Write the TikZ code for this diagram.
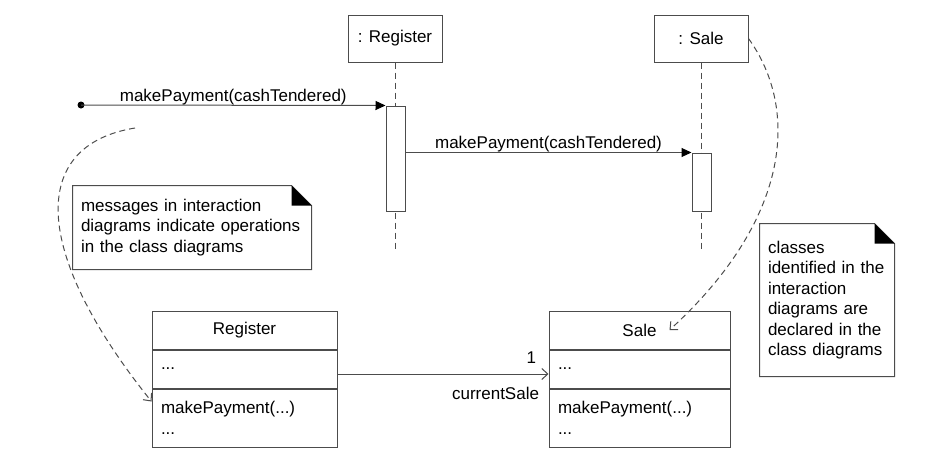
\documentclass[tikz,border=0pt]{standalone}
\usepackage{fontspec}
\setmainfont{Liberation Sans}
\usetikzlibrary{arrows.meta,positioning}

\colorlet{linegray}{black!70}

\newcommand{\dogear}[1]{%
  \draw[linegray] (#1.north west) -- ([xshift=-20pt]#1.north east)
    -- ([yshift=-20pt]#1.north east) -- (#1.south east) -- (#1.south west) -- cycle;
  \fill[black] ([xshift=-20pt]#1.north east) -- ([xshift=-20pt,yshift=-20pt]#1.north east)
    -- ([yshift=-20pt]#1.north east) -- cycle;
}

\begin{document}
\begin{tikzpicture}[x=1pt,y=-1pt,line width=1pt,
    font=\fontsize{17}{20.5}\selectfont,
    objbox/.style={draw=linegray, minimum width=94pt, minimum height=47pt, inner sep=0pt},
    actbar/.style={draw=linegray, fill=white, minimum width=19pt, inner sep=0pt},
    lifeline/.style={draw=linegray, dash pattern=on 6pt off 4pt},
    msg/.style={draw=linegray, -{Triangle[length=10pt,width=9pt,color=black]}},
    classpart/.style={draw=linegray, minimum width=#1, inner sep=0pt},
    notebox/.style={inner xsep=8pt, inner ysep=0pt, align=left},
    trace/.style={draw=linegray, dash pattern=on 6pt off 4pt, -{Straight Barb[length=6pt,width=11pt]}},
    assoc/.style={draw=linegray, -{Straight Barb[length=6pt,width=11pt]}}]
  \useasboundingbox (0,0) rectangle (939,474);

  % lifelines
  \node[objbox] (regobj) at (395,38.5) {: Register};
  \node[objbox] (saleobj) at (701,38.5) {: Sale};
  \coordinate (regend) at (395,250);
  \coordinate (saleend) at (701,250);
  \draw[lifeline] (regobj.south) -- (regend);
  \draw[lifeline] (saleobj.south) -- (saleend);
  \node[actbar, minimum height=105pt] (regact) at (395.5,158.5) {};
  \node[actbar, minimum height=58pt] (saleact) at (701.5,182) {};

  % messages
  \coordinate (start) at (81,105);
  \fill[black] (start) circle (3.5pt);
  \draw[msg] (start) -- (regact.north west)
    node[midway, anchor=south, inner sep=0pt] {makePayment(cashTendered)};
  \draw[msg] (regact.east |- saleact.north) -- (saleact.north west)
    node[midway, anchor=south, inner sep=0pt] {makePayment(cashTendered)};

  % class boxes
  \node[classpart=185pt, minimum height=38pt] (regname) at (244.5,330) {Register};
  \node[classpart=185pt, minimum height=38pt, text width=167pt, below=0pt of regname] (regattr) {...};
  \node[classpart=185pt, minimum height=58pt, text width=167pt, below=0pt of regattr] (regops) {makePayment(...)\\...};

  \node[classpart=181pt, minimum height=38pt] (salename) at (639.5,330) {Sale};
  \node[classpart=181pt, minimum height=38pt, text width=163pt, below=0pt of salename] (saleattr) {...};
  \node[classpart=181pt, minimum height=58pt, text width=163pt, below=0pt of saleattr] (saleops) {makePayment(...)\\...};

  \draw[assoc] ([yshift=-5pt]regattr.east) -- ([yshift=-5pt]saleattr.west)
    node[pos=1, anchor=south east, inner sep=0pt, xshift=-12pt, yshift=10pt] {1}
    node[pos=1, anchor=north east, inner sep=0pt, xshift=-9pt, yshift=-12.5pt] {currentSale};

  % notes
  \node[notebox, text width=222pt, minimum height=83pt] (opnote) at (192,227.5)
    {messages in interaction\\diagrams indicate operations\\in the class diagrams};
  \dogear{opnote}
  \node[notebox, text width=118pt, minimum height=152pt] (classnote) at (827,300)
    {classes\\identified in the\\interaction\\diagrams are\\declared in the\\class diagrams};
  \dogear{classnote}

  % dependencies
  \coordinate (msgfrom) at (135,128);
  \draw[trace] (msgfrom) .. controls (30,145) and (30,250) .. ([yshift=-13pt]regops.north west);
  \draw[trace] (saleobj.east) .. controls (800,110) and (790,220) .. ([xshift=30pt]salename.center);
\end{tikzpicture}
\end{document}
